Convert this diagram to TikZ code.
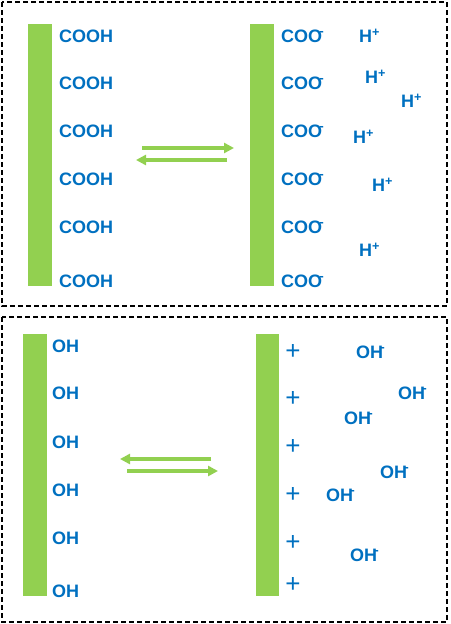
\documentclass[tikz,border=0pt]{standalone}
\usepackage{fontspec}
\setmainfont{Liberation Sans}
\usetikzlibrary{arrows.meta}
\usepackage{xcolor}
\definecolor{barGreen}{RGB}{146, 208, 80}
\definecolor{ionBlue} {RGB}{0,   112, 192}

\newcommand{\anion}[1]{#1\kern-2.5pt\textsuperscript{-}}
\newcommand{\cation}[1]{#1\textsuperscript{+}}

\tikzset{
  grp/.style={anchor=west, inner sep=0pt, text=ionBlue,
    font=\fontsize{18}{18}\selectfont\bfseries},
  chg/.style={anchor=center, inner sep=0pt, text=ionBlue,
    font=\fontsize{26}{26}\selectfont},
  frame/.style={draw=black, line width=2.2pt, dash pattern=on 5pt off 3pt},
  eqarrow/.style={draw=barGreen, line width=3.2pt,
    -{Triangle[length=10pt, width=10pt]}}
}

\begin{document}
\begin{tikzpicture}[x=1pt, y=-1pt]
  \useasboundingbox (0,0) rectangle (450,624);

  % ---- Frames ----
  \draw[frame] (2,2) rectangle (447,306);
  \draw[frame] (2,317) rectangle (447,622);

  % ---- Top panel: COOH <-> COO- + H+ ----
  \fill[barGreen] (28,24) rectangle (52,286);
  \fill[barGreen] (250,24) rectangle (274,286);
  \foreach \i/\y in {1/36, 2/83, 3/131, 4/179, 5/227, 6/281} {
    \node[grp] (cooh\i) at (59,\y) {COOH};
    \node[grp] (coo\i) at (281,\y) {\anion{COO}};
  }
  \node[grp] (hp1) at (359,36)  {\cation{H}};
  \node[grp] (hp2) at (365,77)  {\cation{H}};
  \node[grp] (hp3) at (401,101) {\cation{H}};
  \node[grp] (hp4) at (353,137) {\cation{H}};
  \node[grp] (hp5) at (372,185) {\cation{H}};
  \node[grp] (hp6) at (359,250) {\cation{H}};

  \coordinate (fwdA) at (142,148);
  \coordinate (fwdB) at (234,148);
  \coordinate (revA) at (227,160);
  \coordinate (revB) at (136,160);
  \draw[eqarrow] (fwdA) -- (fwdB);
  \draw[eqarrow] (revA) -- (revB);

  % ---- Bottom panel: OH <-> + OH- ----
  \fill[barGreen] (23,334) rectangle (47,596);
  \fill[barGreen] (256,334) rectangle (279,596);
  \foreach \i/\y/\p in {1/346/352, 2/393/399, 3/442/447,
                        4/490/495, 5/538/543, 6/591/585} {
    \node[grp] (oh\i) at (52,\y) {OH};
    \node[chg] (plus\i) at (293,\p) {+};
  }
  \node[grp] (ohm1) at (356,352) {\anion{OH}};
  \node[grp] (ohm2) at (398,393) {\anion{OH}};
  \node[grp] (ohm3) at (344,418) {\anion{OH}};
  \node[grp] (ohm4) at (380,472) {\anion{OH}};
  \node[grp] (ohm5) at (326,495) {\anion{OH}};
  \node[grp] (ohm6) at (350,555) {\anion{OH}};

  \coordinate (backA) at (211,459);
  \coordinate (backB) at (120,459);
  \coordinate (aheadA) at (127,471);
  \coordinate (aheadB) at (218,471);
  \draw[eqarrow] (backA) -- (backB);
  \draw[eqarrow] (aheadA) -- (aheadB);
\end{tikzpicture}
\end{document}
